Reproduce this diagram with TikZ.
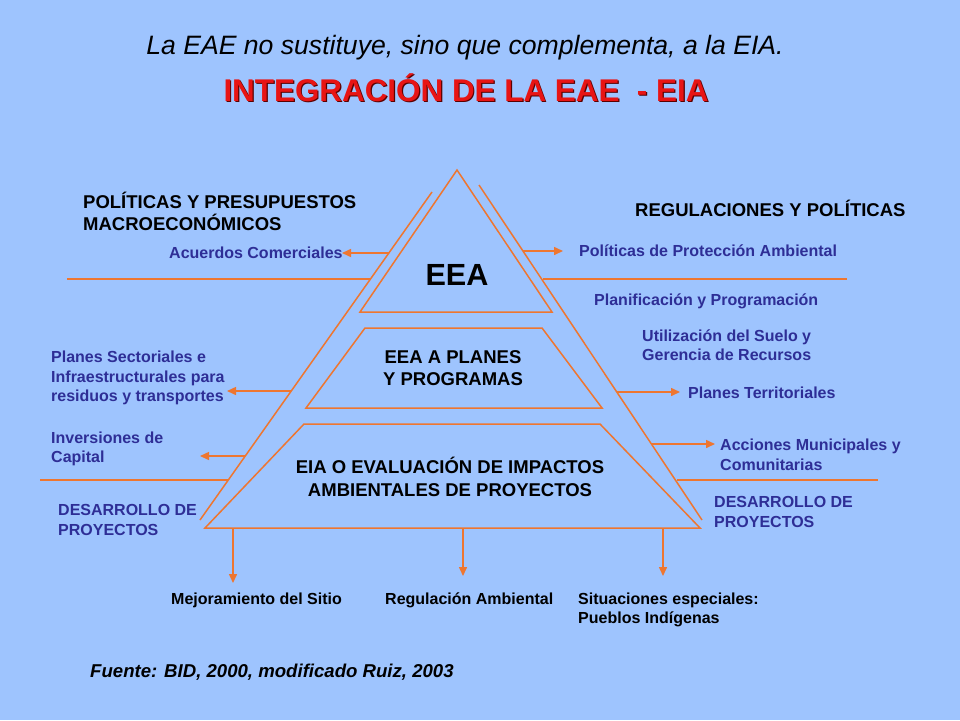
\documentclass[tikz,border=0pt]{standalone}
\usepackage{fontspec}
\setmainfont{Liberation Sans}
\usetikzlibrary{arrows.meta}
\definecolor{bgblue}{RGB}{158,196,254}
\definecolor{lineorange}{RGB}{238,118,48}
\definecolor{txtblue}{RGB}{46,46,150}
\definecolor{redtitle}{RGB}{232,20,20}
\definecolor{redshadow}{RGB}{90,0,0}
\tikzset{
	edge/.style = {draw=lineorange, line width=1.5pt},
	arr/.style = {edge, -{Triangle[length=9pt,width=8pt]}},
	lbl/.style = {inner sep=0pt, align=left, text=txtblue, font=\fontsize{16}{19.5}\selectfont\bfseries},
	head/.style = {inner sep=0pt, align=left, font=\fontsize{18.5}{22}\selectfont\bfseries},
	lvl/.style = {inner sep=0pt, align=center, font=\fontsize{18.5}{22.5}\selectfont\bfseries},
	outcome/.style = {inner sep=0pt, align=left, font=\fontsize{16}{19.5}\selectfont\bfseries}
}
\begin{document}
\begin{tikzpicture}[x=1pt, y=-1pt]
	\fill[bgblue] (0,0) rectangle (960,720);
	\useasboundingbox (0,0) rectangle (960,720);
	% titulo
	\node (title) at (465, 48)	[inner sep=0pt, font=\fontsize{26.6}{30}\selectfont\itshape]	{La EAE no sustituye, sino que complementa, a la EIA.};
	\node (subsh) at (467.2, 89.2)	[inner sep=0pt, text=redshadow, font=\fontsize{31.4}{34}\selectfont\bfseries]	{INTEGRACIÓN DE LA EAE\ \ - EIA};
	\node (sub) at (466, 88)	[inner sep=0pt, text=redtitle, font=\fontsize{31.4}{34}\selectfont\bfseries]	{INTEGRACIÓN DE LA EAE\ \ - EIA};
	% piramide
	\coordinate (T1) at (457, 170);
	\coordinate (T2) at (552, 312);
	\coordinate (T3) at (360, 312);
	\coordinate (M1) at (365, 328);
	\coordinate (M2) at (542, 328);
	\coordinate (M3) at (602, 408);
	\coordinate (M4) at (306, 408);
	\coordinate (B1) at (304, 424);
	\coordinate (B2) at (600, 424);
	\coordinate (B3) at (700, 528);
	\coordinate (B4) at (205, 528);
	\draw[edge] (T1) -- (T2) -- (T3) -- cycle;
	\draw[edge] (M1) -- (M2) -- (M3) -- (M4) -- cycle;
	\draw[edge] (B1) -- (B2) -- (B3) -- (B4) -- cycle;
	% lineas exteriores
	\coordinate (L1) at (432, 192);
	\coordinate (L2) at (200, 520);
	\coordinate (R1) at (479, 185);
	\coordinate (R2) at (702, 520);
	\draw[edge] (L1) -- (L2);
	\draw[edge] (R1) -- (R2);
	\draw[edge] (67, 279) -- (370, 279);
	\draw[edge] (543, 279) -- (847, 279);
	\draw[edge] (40, 480) -- (228, 480);
	\draw[edge] (677, 480) -- (878, 480);
	% textos de la piramide
	\node (eea) at (457, 275)	[inner sep=0pt, font=\fontsize{30.6}{34}\selectfont\bfseries]	{EEA};
	\node (plan) at (453, 368)	[lvl]	{EEA A PLANES\\Y PROGRAMAS};
	\node (eia) at (450, 477)	[lvl]	{EIA O EVALUACIÓN DE IMPACTOS\\AMBIENTALES DE PROYECTOS};
	% lado izquierdo
	\node (polmac) at (83, 211)	[head, anchor=west]	{POLÍTICAS Y PRESUPUESTOS\\MACROECONÓMICOS};
	\node (acuerdos) at (169, 253)	[lbl, anchor=west]	{Acuerdos Comerciales};
	\node (sector) at (51, 378)	[lbl, anchor=west]	{Planes Sectoriales e\\Infraestructurales para\\residuos y transportes};
	\node (invers) at (51, 449)	[lbl, anchor=west]	{Inversiones de\\Capital};
	\node (desizq) at (58, 520)	[lbl, anchor=west]	{DESARROLLO DE\\PROYECTOS};
	% lado derecho
	\node (regpol) at (635, 208)	[head, anchor=west]	{REGULACIONES Y POLÍTICAS};
	\node (proteccion) at (579, 251)	[lbl, anchor=west]	{Políticas de Protección Ambiental};
	\node (planif) at (594, 301)	[lbl, anchor=west]	{Planificación y Programación};
	\node (suelo) at (642, 345)	[lbl, anchor=west]	{Utilización del Suelo y\\Gerencia de Recursos};
	\node (territ) at (688, 393)	[lbl, anchor=west]	{Planes Territoriales};
	\node (municip) at (720, 455)	[lbl, anchor=west]	{Acciones Municipales y\\Comunitarias};
	\node (desder) at (714, 512)	[lbl, anchor=west]	{DESARROLLO DE\\PROYECTOS};
	% abajo
	\node (mejora) at (171, 600)	[outcome, anchor=west]	{Mejoramiento del Sitio};
	\node (regamb) at (385, 600)	[outcome, anchor=west]	{Regulación Ambiental};
	\node (especial) at (578, 610)	[outcome, anchor=west]	{Situaciones especiales:\\Pueblos Indígenas};
	\node (fuente) at (90, 672)	[inner sep=0pt, anchor=west, font=\fontsize{18.6}{22}\selectfont\bfseries\itshape]	{Fuente: BID, 2000, modificado Ruiz, 2003};
	% flechas
	\coordinate (a1) at (389, 253);	\coordinate (e1) at (342, 253);
	\coordinate (a2) at (291, 391);	\coordinate (e2) at (227, 391);
	\coordinate (a3) at (245, 456);	\coordinate (e3) at (200, 456);
	\coordinate (a4) at (523, 251);	\coordinate (e4) at (563, 251);
	\coordinate (a5) at (617, 392);	\coordinate (e5) at (680, 392);
	\coordinate (a6) at (651, 444);	\coordinate (e6) at (715, 444);
	\draw[arr] (a1) -- (e1);
	\draw[arr] (a2) -- (e2);
	\draw[arr] (a3) -- (e3);
	\draw[arr] (a4) -- (e4);
	\draw[arr] (a5) -- (e5);
	\draw[arr] (a6) -- (e6);
	\coordinate (d1) at (233, 583);
	\coordinate (d2) at (463, 576);
	\coordinate (d3) at (663, 576);
	\draw[arr] (B4 -| d1) -- (d1);
	\draw[arr] (B4 -| d2) -- (d2);
	\draw[arr] (B4 -| d3) -- (d3);
\end{tikzpicture}
\end{document}
